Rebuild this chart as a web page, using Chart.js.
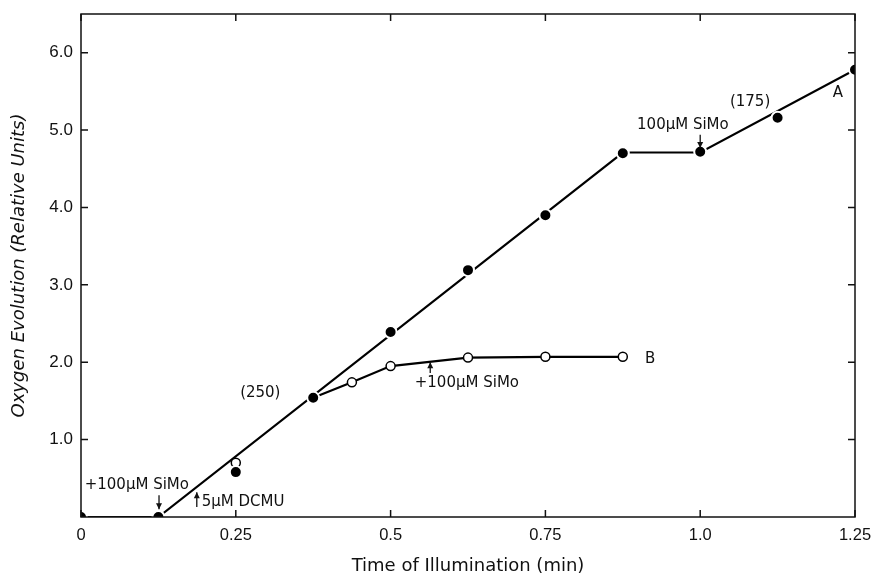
<!DOCTYPE html>
<html><head><meta charset="utf-8">
<script src="https://cdn.jsdelivr.net/npm/chart.js@4.4.1/dist/chart.umd.min.js"></script>
<style>html,body{margin:0;padding:0;background:#fff}#wrap{width:871px;height:577px;position:relative}</style>
</head><body><div id="wrap"><canvas id="c"></canvas></div>
<script>
// ---- data ----
const timeA = [0, 0.125, 0.25, 0.375, 0.5, 0.625, 0.75, 0.875, 1.0, 1.125, 1.25];
const oxygenA = [0, 0, 0.58, 1.54, 2.39, 3.19, 3.90, 4.70, 4.72, 5.16, 5.78];
const fitTimeA = [0, 0.125, 0.875, 1.0, 1.25];
const fitOxygenA = [0, 0, 4.71, 4.71, 5.78];
const timeB = [0.25, 0.4375, 0.5, 0.625, 0.75, 0.875];
const oxygenB = [0.70, 1.74, 1.95, 2.06, 2.07, 2.07];
const lineTimeB = [0.375, 0.4375, 0.5, 0.625, 0.75, 0.875];
const lineOxygenB = [1.54, 1.74, 1.95, 2.06, 2.07, 2.07];
const xTickValues = [0, 0.25, 0.5, 0.75, 1.0, 1.25];
const xTickLabels = ["0", "0.25", "0.5", "0.75", "1.0", "1.25"];
const yTickValues = [1, 2, 3, 4, 5, 6];
const yTickLabels = ["1.0", "2.0", "3.0", "4.0", "5.0", "6.0"];

const noteTexts = ["+100μM SiMo", "5μM DCMU", "(250)", "+100μM SiMo", "B", "100μM SiMo", "(175)", "A"];
const noteX = [0.006, 0.195, 0.257, 0.539, 0.911, 0.898, 1.048, 1.214];
const noteY = [0.41, 0.19, 1.60, 1.73, 2.04, 5.06, 5.36, 5.48];
const arrowX = [0.126, 0.187, 0.564, 1.0];
const arrowFrom = [0.28, 0.13, 1.86, 4.94];
const arrowTo = [0.10, 0.32, 2.00, 4.77];

const pts = (xs, ys) => xs.map((x, i) => ({x: x, y: ys[i]}));
const FONT = "'DejaVu Sans', sans-serif";
const TICKFONT = "'Liberation Sans', sans-serif";

const framePlugin = {
  id: 'frame',
  afterDatasetsDraw(chart) {
    const {ctx, chartArea: a, scales: {x, y}} = chart;
    ctx.save();
    ctx.strokeStyle = '#111';
    ctx.lineWidth = 1.5;
    ctx.strokeRect(a.left, a.top, a.right - a.left, a.bottom - a.top);
    const L = 7;
    ctx.beginPath();
    xTickValues.forEach(v => {
      const px = x.getPixelForValue(v);
      ctx.moveTo(px, a.bottom); ctx.lineTo(px, a.bottom - L);
      ctx.moveTo(px, a.top); ctx.lineTo(px, a.top + L);
    });
    yTickValues.forEach(v => {
      const py = y.getPixelForValue(v);
      ctx.moveTo(a.left, py); ctx.lineTo(a.left + L, py);
      ctx.moveTo(a.right, py); ctx.lineTo(a.right - L, py);
    });
    ctx.stroke();
    // annotations
    ctx.fillStyle = '#111';
    ctx.font = "15px " + FONT;
    ctx.textBaseline = 'middle';
    ctx.textAlign = 'left';
    noteTexts.forEach((t, i) => {
      ctx.fillText(t, x.getPixelForValue(noteX[i]), y.getPixelForValue(noteY[i]));
    });
    ctx.lineWidth = 1.3;
    arrowX.forEach((v, i) => {
      const px = x.getPixelForValue(v);
      const p0 = y.getPixelForValue(arrowFrom[i]);
      const p1 = y.getPixelForValue(arrowTo[i]);
      const dir = p1 > p0 ? 1 : -1;
      ctx.beginPath();
      ctx.moveTo(px, p0); ctx.lineTo(px, p1);
      ctx.stroke();
      ctx.beginPath();
      ctx.moveTo(px, p1);
      ctx.lineTo(px - 3, p1 - dir * 6);
      ctx.lineTo(px + 3, p1 - dir * 6);
      ctx.closePath();
      ctx.fill();
    });
    ctx.restore();
  }
};

new Chart(document.getElementById('c'), {
  type: 'scatter',
  data: {
    datasets: [
      { label: 'A', data: pts(timeA, oxygenA), showLine: false,
        pointRadius: 6, pointBackgroundColor: '#000', pointBorderColor: '#fff', pointBorderWidth: 2 },
      { label: 'B', data: pts(timeB, oxygenB), showLine: false,
        pointRadius: 4.5, pointBackgroundColor: '#fff', pointBorderColor: '#000', pointBorderWidth: 1.5 },
      { label: 'A line', data: pts(fitTimeA, fitOxygenA), showLine: true, pointRadius: 0,
        borderColor: '#000', borderWidth: 2.2, tension: 0 },
      { label: 'B line', data: pts(lineTimeB, lineOxygenB), showLine: true, pointRadius: 0,
        borderColor: '#000', borderWidth: 2.2, tension: 0 }
    ]
  },
  options: {
    responsive: true,
    maintainAspectRatio: false,
    animation: false,
    events: [],
    layout: { padding: { left: 0, right: 16, top: 14, bottom: 0 } },
    plugins: { legend: { display: false }, tooltip: { enabled: false } },
    scales: {
      x: {
        type: 'linear', min: 0, max: 1.25,
        afterBuildTicks: s => { s.ticks = xTickValues.map(v => ({value: v})); },
        afterFit: s => { s.height = 60; s.paddingLeft = 0; s.paddingRight = 0; },
        grid: { display: false, drawTicks: false },
        border: { display: false },
        ticks: { color: '#111', padding: 9, maxRotation: 0, autoSkip: false,
          font: { family: TICKFONT, size: 16.5 },
          callback: (v) => xTickLabels[xTickValues.indexOf(v)] },
        title: { display: true, text: 'Time of Illumination (min)', color: '#111',
          font: { family: FONT, size: 18 }, padding: { top: 8, bottom: 0 } }
      },
      y: {
        type: 'linear', min: 0, max: 6.5,
        afterBuildTicks: s => { s.ticks = yTickValues.map(v => ({value: v})); },
        afterFit: s => { s.width = 81; s.paddingTop = 0; s.paddingBottom = 0; },
        grid: { display: false, drawTicks: false },
        border: { display: false },
        ticks: { color: '#111', padding: 8, font: { family: TICKFONT, size: 17 },
          callback: (v) => yTickLabels[yTickValues.indexOf(v)] },
        title: { display: true, text: 'Oxygen Evolution (Relative Units)', color: '#111',
          font: { family: FONT, size: 18, style: 'italic' }, padding: { top: 9, bottom: 0 } }
      }
    }
  },
  plugins: [framePlugin]
});
</script></body></html>
